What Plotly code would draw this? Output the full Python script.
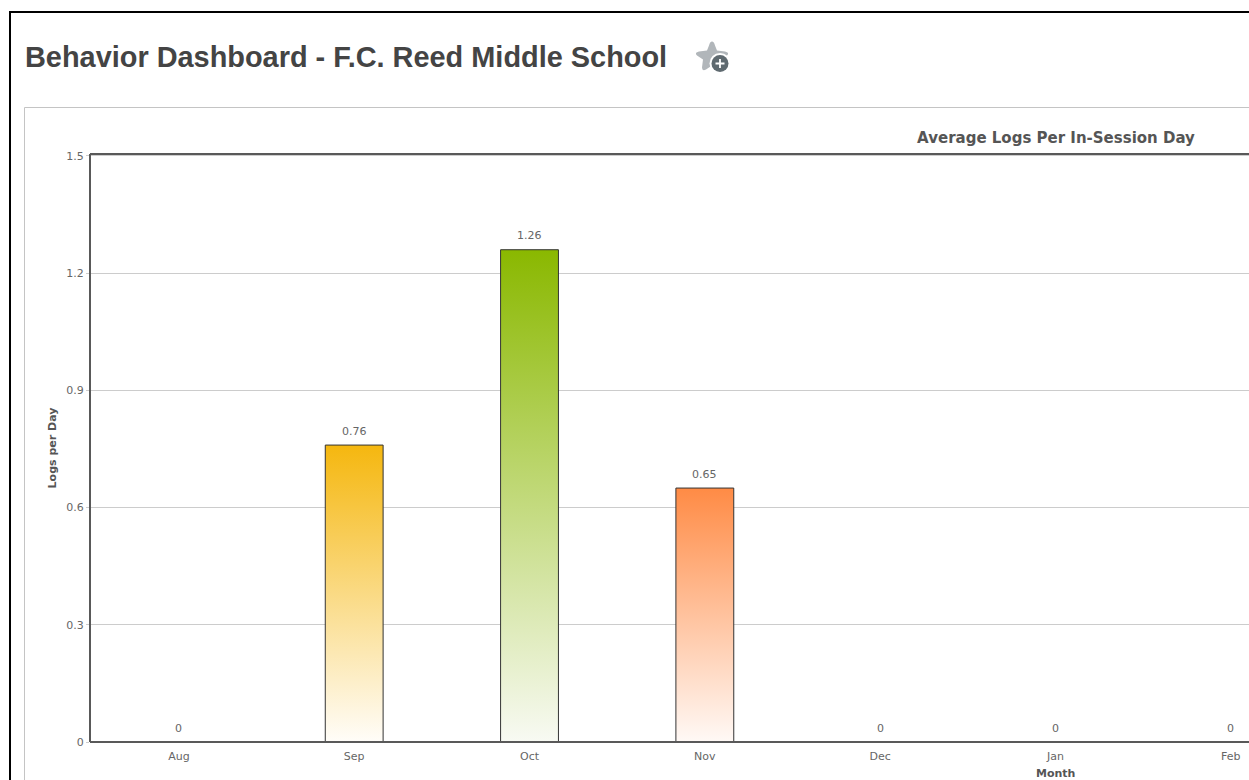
import plotly.graph_objects as go

months = ["Aug", "Sep", "Oct", "Nov", "Dec", "Jan", "Feb"]
logs_per_day = [0, 0.76, 1.26, 0.65, 0, 0, 0]
value_labels = ["0", "0.76", "1.26", "0.65", "0", "0", "0"]
y_ticks = [0, 0.3, 0.6, 0.9, 1.2, 1.5]
y_tick_labels = ["0", "0.3", "0.6", "0.9", "1.2", "1.5"]
top_colors = [None, "#F5B70F", "#8AB800", "#FF8B45", None, None, None]
bottom_colors = [None, "#FFFDF9", "#F8FAF3", "#FFF9F6", None, None, None]

W, H = 1249, 780
L, R, T, B = 90, 1249, 154, 742
BAR_WIDTH = 0.33


def px(x):
    return (x - L) / (R - L)


def py(y):
    return (B - y) / (B - T)


FONT = "DejaVu Sans, Verdana, sans-serif"
TEXT = "#666666"
fig = go.Figure()

# The bar trace holds the values; gradient fills with outlines are layered on top.
fig.add_trace(go.Bar(
    x=list(range(len(months))), y=logs_per_day, width=BAR_WIDTH,
    marker=dict(color="rgba(0,0,0,0)", line=dict(width=0)),
    hoverinfo="skip", showlegend=False,
))
for i, v in enumerate(logs_per_day):
    if v <= 0:
        continue
    x0, x1 = i - BAR_WIDTH / 2, i + BAR_WIDTH / 2
    fig.add_trace(go.Scatter(
        x=[x0, x0, x1, x1, x0], y=[0, v, v, 0, 0], mode="lines", fill="toself",
        line=dict(color="#333333", width=1),
        fillgradient=dict(type="vertical", start=0, stop=v,
                          colorscale=[[0, bottom_colors[i]], [1, top_colors[i]]]),
        hoverinfo="skip", showlegend=False,
    ))

annotations = [
    dict(x=i, y=v, xref="x", yref="y", text=value_labels[i], showarrow=False,
         yshift=14, font=dict(family=FONT, size=11, color=TEXT))
    for i, v in enumerate(logs_per_day)
]
annotations += [
    dict(x=px(23), y=py(57), xref="paper", yref="paper", xanchor="left", yanchor="middle",
         text="<b>Behavior Dashboard - F.C. Reed Middle School</b>", showarrow=False,
         font=dict(family="Liberation Sans, Arial, sans-serif", size=28.9, color="#444444")),
    dict(x=px(1055.5), y=py(773), xref="paper", yref="paper", xanchor="center", yanchor="middle",
         text="<b>Month</b>", showarrow=False,
         font=dict(family=FONT, size=11, color="#555555")),
]


def rect(x0, y0, x1, y1, color, width):
    return dict(type="rect", xref="paper", yref="paper", x0=px(x0), y0=py(y0), x1=px(x1), y1=py(y1),
                line=dict(color=color, width=width), fillcolor="rgba(0,0,0,0)", layer="below")


star = ("M 0 14 Q 2 14 3 10 L 5 5 L 13 4 Q 18 3 15 0 L 9 -4 L 10 -12 Q 10 -16 6 -14 "
        "L 0 -10 L -6 -14 Q -10 -16 -10 -12 L -9 -4 L -15 0 Q -18 3 -13 4 L -5 5 L -3 10 Q -2 14 0 14 Z")
plus_path = "M -4.5 -0.9 H -0.9 V -4.5 H 0.9 V -0.9 H 4.5 V 0.9 H 0.9 V 4.5 H -0.9 V 0.9 H -4.5 Z"


def icon(path, ax, ay, color):
    return dict(type="path", xsizemode="pixel", ysizemode="pixel", xref="paper", yref="paper",
                xanchor=px(ax), yanchor=py(ay), path=path, fillcolor=color, line=dict(width=0))


def disc(ax, ay, r, color):
    return dict(type="circle", xsizemode="pixel", ysizemode="pixel", xref="paper", yref="paper",
                xanchor=px(ax), yanchor=py(ay), x0=-r, x1=r, y0=-r, y1=r,
                fillcolor=color, line=dict(width=0))


shapes = [
    rect(10, 12, 1300, 820, "#000000", 2),
    rect(24.5, 107.5, 1300, 820, "#C4C4C4", 1),
    icon(star, 712, 55.5, "#B1B6BA"),
    disc(720, 63.5, 10.5, "#FFFFFF"),
    disc(720, 63.5, 8.5, "#5F6A70"),
    icon(plus_path, 720, 63.5, "#FFFFFF"),
]

fig.update_layout(
    width=W, height=H, autosize=False,
    margin=dict(l=L, r=W - R, t=T, b=H - B, pad=0),
    paper_bgcolor="white", plot_bgcolor="white",
    showlegend=False, bargap=0,
    title=dict(text="<b>Average Logs Per In-Session Day</b>", xref="container", yref="container",
               x=1056 / W, xanchor="center", y=1 - 137.5 / H, yanchor="middle",
               font=dict(family=FONT, size=15, color="#555555")),
    annotations=annotations, shapes=shapes,
    xaxis=dict(
        range=[-0.507, 6.104], tickmode="array", tickvals=list(range(len(months))), ticktext=months,
        showgrid=False, zeroline=False, ticks="", showline=False,
        tickfont=dict(family=FONT, size=11, color=TEXT), ticklabelstandoff=6,
    ),
    yaxis=dict(
        range=[0, 1.505], tickmode="array", tickvals=y_ticks, ticktext=y_tick_labels,
        showgrid=True, gridcolor="#CCCCCC", gridwidth=1, zeroline=False, showline=False,
        ticks="outside", ticklen=3, tickcolor="#CCCCCC", tickwidth=1, ticklabelstandoff=0,
        tickfont=dict(family=FONT, size=11, color=TEXT),
        title=dict(text="<b>Logs per Day</b>", standoff=7,
                   font=dict(family=FONT, size=11, color="#555555")),
    ),
)

# Axis frame lines: left, top and bottom edges of the plot.
for x0, y0, x1, y1 in [(0, 0, 0, 1), (0, 1, 1, 1), (0, 0, 1, 0)]:
    fig.add_shape(type="line", xref="paper", yref="paper", x0=x0, y0=y0, x1=x1, y1=y1,
                  line=dict(color="#595959", width=2), layer="above")

fig.write_html("out.html", config=dict(displayModeBar=False), post_script=(
    "document.body.style.margin='0';document.body.style.overflow='hidden';"
))
